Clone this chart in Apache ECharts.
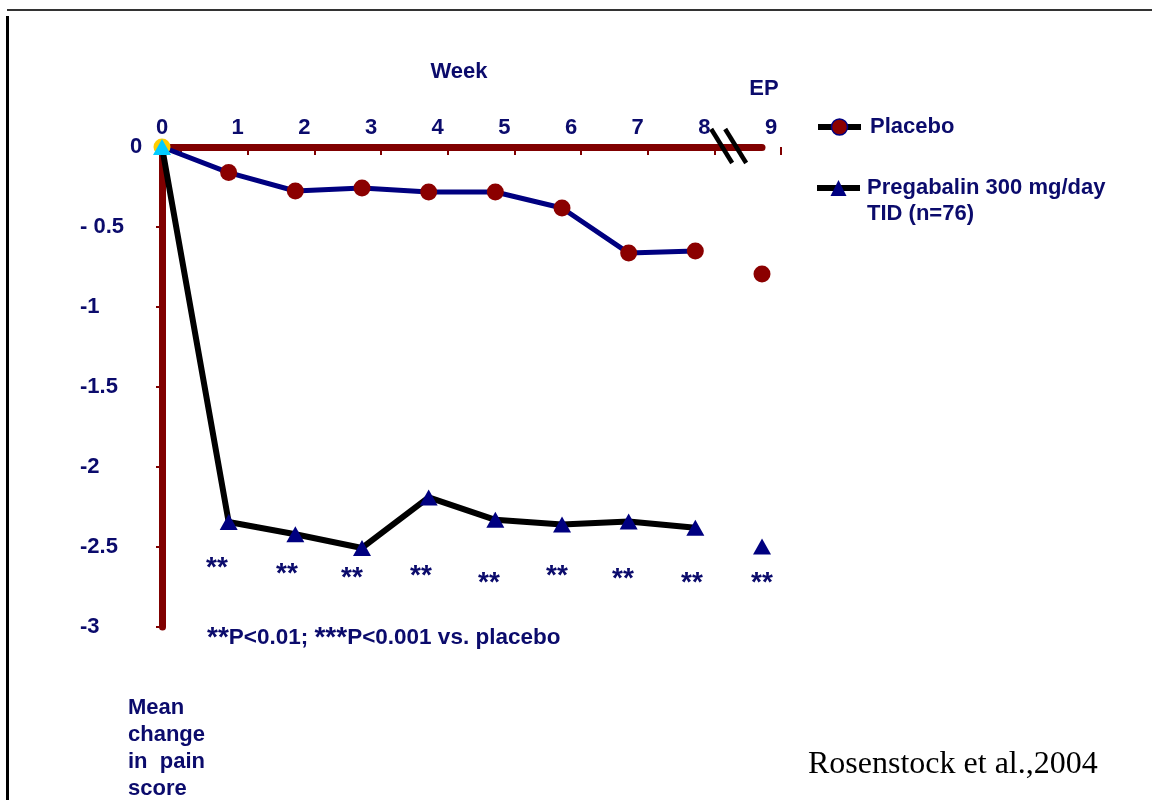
<!DOCTYPE html>
<html>
<head>
<meta charset="utf-8">
<script src="https://cdn.jsdelivr.net/npm/echarts@6/dist/echarts.min.js"></script>
<style>
html, body { margin: 0; padding: 0; background: #fff; }
#chart { width: 1152px; height: 800px; }
</style>
</head>
<body>
<div id="chart"></div>
<script>
// weeks 0..8 joined by lines, EP (end point) shown apart at 9
const weeks = [0, 1, 2, 3, 4, 5, 6, 7, 8];
const epWeek = 9;
const weekLabels = ['0', '1', '2', '3', '4', '5', '6', '7', '8', '9'];
const placebo = [0, -0.16, -0.275, -0.256, -0.281, -0.281, -0.381, -0.663, -0.65];
const placeboEP = -0.794;
const pregabalin = [0, -2.344, -2.42, -2.506, -2.19, -2.33, -2.36, -2.34, -2.38];
const pregabalinEP = -2.497;
// "**" significance marks under each pregabalin point
const starX = [0.825, 1.875, 2.85, 3.885, 4.905, 5.925, 6.915, 7.95, 9.0];
const starY = [-2.63, -2.668, -2.693, -2.68, -2.725, -2.68, -2.699, -2.725, -2.725];

const NAVY = '#000080';
const TXT = '#0b0b6c';
const RED = '#800000';
const FONT = 'bold 22px "Liberation Sans", Arial, sans-serif';

const chart = echarts.init(document.getElementById('chart'));

const pair = (arr) => arr.map((v, i) => [weeks[i], v]);

let option = {
    animation: false,
    backgroundColor: '#fff',
    textStyle: { fontFamily: '"Liberation Sans", Arial, sans-serif' },
    grid: [
        { left: 162, top: 147, width: 600, height: 480 },
        // grid only for the week labels + ticks (they sit a little right of the points)
        { left: 181, top: 147, width: 600, height: 480 }
    ],
    xAxis: [
        {
            type: 'value', gridIndex: 0, min: 0, max: 9, position: 'top',
            axisLine: { show: true, onZero: false, lineStyle: { color: RED, width: 7 } },
            axisTick: { show: false }, axisLabel: { show: false }, splitLine: { show: false }
        },
        {
            type: 'value', gridIndex: 1, min: 0, max: 9, interval: 1, position: 'top',
            axisLine: { show: false },
            axisTick: {
                show: true, inside: true, length: 8,
                interval: function (idx) { return idx > 0; },
                lineStyle: { color: RED, width: 2 }
            },
            axisLabel: {
                show: true, margin: 8, color: TXT, fontSize: 22, fontWeight: 'bold',
                formatter: function (v) {
                    return v === 0 ? '{z|0}' : '{n|' + weekLabels[v] + '}';
                },
                rich: {
                    z: { fontSize: 22, fontWeight: 'bold', color: TXT, padding: [0, 38, 0, 0] },
                    n: { fontSize: 22, fontWeight: 'bold', color: TXT, padding: [0, 20, 0, 0] }
                }
            },
            splitLine: { show: false }
        }
    ],
    yAxis: [
        {
            type: 'value', gridIndex: 0, min: -3, max: 0, interval: 0.5,
            axisLine: { show: true, onZero: false, lineStyle: { color: RED, width: 7 } },
            axisTick: { show: true, length: 6, lineStyle: { color: RED, width: 2 } },
            axisLabel: {
                show: true, align: 'left', margin: 82, color: TXT,
                formatter: function (v) {
                    if (v === 0) return '{z|0}';
                    if (v === -0.5) return '{n|- 0.5}';
                    return '{n|' + v + '}';
                },
                rich: {
                    z: { fontSize: 22, fontWeight: 'bold', color: TXT, padding: [0, 0, 0, 50] },
                    n: { fontSize: 22, fontWeight: 'bold', color: TXT }
                }
            },
            splitLine: { show: false }
        },
        { type: 'value', gridIndex: 1, min: -3, max: 0, show: false }
    ],
    legend: [
        {
            left: 815, top: 114, padding: 0, itemWidth: 43, itemHeight: 20,
            data: [{
                name: 'Placebo',
                itemStyle: { color: '#8b0000', borderColor: NAVY, borderWidth: 1.5 },
                lineStyle: { color: '#000', width: 6 }
            }],
            textStyle: { color: TXT, fontSize: 22, fontWeight: 'bold', lineHeight: 26, padding: [0, 0, 0, 4] }
        },
        {
            left: 814, top: 149, padding: 0, itemWidth: 43, itemHeight: 20,
            data: [{
                name: 'Pregabalin 300 mg/day',
                itemStyle: { color: NAVY },
                lineStyle: { color: '#000', width: 6 }
            }],
            // leading blank line keeps the marker level with the first text line
            formatter: function (n) { return ' \n' + n + '\nTID (n=76)'; },
            textStyle: { color: TXT, fontSize: 22, fontWeight: 'bold', lineHeight: 26, padding: [0, 0, 0, 2] }
        }
    ],
    series: [
        {
            name: 'Placebo', type: 'line', xAxisIndex: 0, yAxisIndex: 0,
            data: pair(placebo).map((p, i) => i === 0 ? { value: p, itemStyle: { color: '#ffcc00' } } : p),
            symbol: 'circle', symbolSize: 17,
            lineStyle: { color: NAVY, width: 5 },
            itemStyle: { color: '#8b0000' },
            z: 3
        },
        {
            name: 'Placebo EP', type: 'scatter', xAxisIndex: 0, yAxisIndex: 0,
            data: [[epWeek, placeboEP]],
            symbol: 'circle', symbolSize: 17,
            itemStyle: { color: '#8b0000', opacity: 1 },
            z: 3
        },
        {
            name: 'Pregabalin 300 mg/day', type: 'line', xAxisIndex: 0, yAxisIndex: 0,
            data: pair(pregabalin).map((p, i) => i === 0 ? { value: p, itemStyle: { color: '#00ccff' } } : p),
            symbol: 'triangle', symbolSize: [18, 16],
            lineStyle: { color: '#000', width: 6 },
            itemStyle: { color: NAVY },
            z: 4
        },
        {
            name: 'Pregabalin EP', type: 'scatter', xAxisIndex: 0, yAxisIndex: 0,
            data: [[epWeek, pregabalinEP]],
            symbol: 'triangle', symbolSize: [18, 16],
            itemStyle: { color: NAVY, opacity: 1 },
            z: 4
        },
        {
            name: 'stars', type: 'scatter', xAxisIndex: 0, yAxisIndex: 0,
            data: starX.map((x, i) => [x, starY[i]]),
            symbolSize: 0, silent: true,
            itemStyle: { opacity: 1 },
            label: {
                show: true, position: 'inside', formatter: '**', opacity: 1,
                color: TXT, fontSize: 28, fontWeight: 'bold'
            }
        }
    ],
    graphic: [
        { type: 'rect', shape: { x: 7, y: 9, width: 1145, height: 2 }, style: { fill: '#333' } },
        { type: 'rect', shape: { x: 6, y: 16, width: 3, height: 784 }, style: { fill: '#000' } },
        { type: 'text', x: 459, y: 72, style: { text: 'Week', font: FONT, fill: TXT, align: 'center', verticalAlign: 'middle' } },
        { type: 'text', x: 764, y: 89, style: { text: 'EP', font: FONT, fill: TXT, align: 'center', verticalAlign: 'middle' } },
        {
            type: 'text', x: 207, y: 638,
            style: {
                text: '{s|**}{t|P<0.01; }{s|***}{t|P<0.001 vs. placebo}',
                rich: {
                    s: { fontSize: 28, fontWeight: 'bold', fill: TXT, fontFamily: '"Liberation Sans", Arial, sans-serif' },
                    t: { fontSize: 22.5, fontWeight: 'bold', fill: TXT, fontFamily: '"Liberation Sans", Arial, sans-serif' }
                },
                align: 'left', verticalAlign: 'middle'
            }
        },
        { type: 'text', x: 128, y: 695, style: { text: 'Mean\nchange\nin  pain\nscore', font: FONT, lineHeight: 26.7, fill: TXT, align: 'left', verticalAlign: 'top' } },
        { type: 'text', x: 808, y: 765, style: { text: 'Rosenstock et al.,2004', font: '32px "Liberation Serif", "Times New Roman", serif', fill: '#000', align: 'left', verticalAlign: 'middle' } }
    ]
};

chart.setOption(option);

// axis break marks between week 8 and EP
const bx = chart.convertToPixel({ xAxisIndex: 0 }, 8.5);
const by = chart.convertToPixel({ yAxisIndex: 0 }, 0);
const breakMark = (dx) => ({
    type: 'line',
    shape: { x1: bx + dx - 10.5, y1: by - 18, x2: bx + dx + 10.5, y2: by + 16 },
    style: { stroke: '#000', lineWidth: 4.5 },
    z: 10
});
chart.setOption({ graphic: option.graphic.concat([breakMark(-7), breakMark(7)]) });
</script>
</body>
</html>
